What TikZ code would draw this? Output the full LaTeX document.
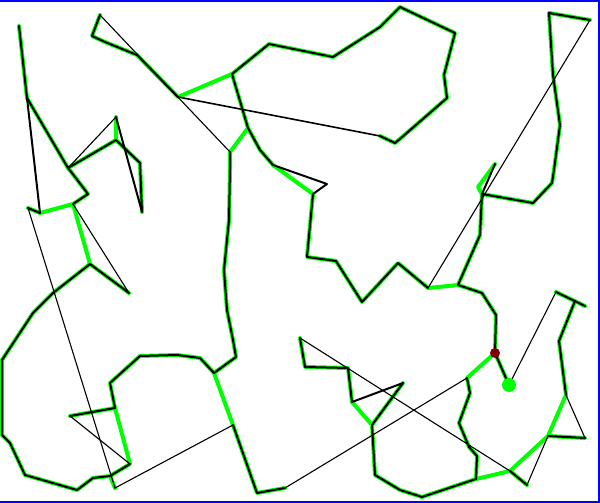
\documentclass[tikz,border=0pt]{standalone}
\definecolor{lime}{RGB}{0,255,0}
\definecolor{dotred}{RGB}{128,0,0}
\definecolor{frameblue}{RGB}{0,0,255}
\tikzset{
  gr/.style={draw=lime, line width=4pt, line join=round, line cap=round},
  bk/.style={draw=black, line width=2pt, line join=round, line cap=round},
  tn/.style={draw=black, line width=1.1pt, line cap=round}
}
\begin{document}
\begin{tikzpicture}[x=1pt,y=-1pt]
\useasboundingbox (0,0) rectangle (600,503);
\fill[white] (0,0) rectangle (600,503);
% vertices
\coordinate (a1) at (19,26);
\coordinate (a2) at (27,98);
\coordinate (a3) at (68,168);
\coordinate (a4) at (116,140);
\coordinate (a5) at (116,117);
\coordinate (a6) at (140,163);
\coordinate (a7) at (142,212);
\coordinate (a8) at (72,173);
\coordinate (a9) at (88,194);
\coordinate (a10) at (73,204);
\coordinate (a11) at (40,213);
\coordinate (a12) at (28,208);
\coordinate (a13) at (90,264);
\coordinate (a14) at (129,293);
\coordinate (a15) at (53,293);
\coordinate (a16) at (33,313);
\coordinate (a18) at (2,360);
\coordinate (a19) at (2,435);
\coordinate (a20) at (10,443);
\coordinate (a21) at (25,475);
\coordinate (a22) at (77,490);
\coordinate (a23) at (93,478);
\coordinate (a24) at (110,476);
\coordinate (a25) at (130,464);
\coordinate (a26) at (115,408);
\coordinate (a27) at (70,416);
\coordinate (a28) at (110,383);
\coordinate (a29) at (140,356);
\coordinate (a30) at (177,355);
\coordinate (a31) at (200,358);
\coordinate (a32) at (214,373);
\coordinate (a33) at (236,357);
\coordinate (a34) at (233,340);
\coordinate (a35) at (227,310);
\coordinate (a36) at (224,270);
\coordinate (a37) at (229,220);
\coordinate (a38) at (230,170);
\coordinate (a39) at (230,152);
\coordinate (a40) at (233,425);
\coordinate (a41) at (257,493);
\coordinate (a42) at (285,488);
\coordinate (a43) at (115,488);
\coordinate (a44) at (248,128);
\coordinate (a45) at (232,74);
\coordinate (a46) at (178,97);
\coordinate (a47) at (137,55);
\coordinate (a48) at (105,42);
\coordinate (a49) at (92,36);
\coordinate (a50) at (100,15);
\coordinate (a51) at (269,44);
\coordinate (a52) at (333,57);
\coordinate (a53) at (380,27);
\coordinate (a54) at (400,7);
\coordinate (a55) at (455,33);
\coordinate (a56) at (444,75);
\coordinate (a57) at (447,98);
\coordinate (a58) at (401,138);
\coordinate (a59) at (395,143);
\coordinate (a60) at (380,136);
\coordinate (a61) at (260,150);
\coordinate (a62) at (273,165);
\coordinate (a63) at (327,184);
\coordinate (a64) at (313,194);
\coordinate (a65) at (307,257);
\coordinate (a66) at (336,261);
\coordinate (a67) at (362,302);
\coordinate (a68) at (398,263);
\coordinate (a69) at (428,288);
\coordinate (a70) at (458,285);
\coordinate (a71) at (480,235);
\coordinate (a72) at (482,194);
\coordinate (a73) at (533,203);
\coordinate (a74) at (552,183);
\coordinate (a75) at (554,170);
\coordinate (a76) at (560,125);
\coordinate (a77) at (553,75);
\coordinate (a78) at (549,13);
\coordinate (a79) at (590,20);
\coordinate (a80) at (478,187);
\coordinate (a81) at (495,164);
\coordinate (a82) at (482,293);
\coordinate (a83) at (496,315);
\coordinate (a84) at (495,353);
\coordinate (a85) at (467,378);
\coordinate (a86) at (509,385);
\coordinate (a87) at (470,393);
\coordinate (a88) at (459,423);
\coordinate (a89) at (469,447);
\coordinate (a90) at (477,456);
\coordinate (a91) at (476,479);
\coordinate (a92) at (510,471);
\coordinate (a93) at (527,485);
\coordinate (a94) at (422,497);
\coordinate (a95) at (400,490);
\coordinate (a96) at (375,475);
\coordinate (a97) at (372,425);
\coordinate (a98) at (352,402);
\coordinate (a99) at (348,368);
\coordinate (a100) at (305,367);
\coordinate (a101) at (300,338);
\coordinate (a102) at (403,383);
\coordinate (a103) at (548,436);
\coordinate (a104) at (566,395);
\coordinate (a105) at (559,341);
\coordinate (a106) at (575,301);
\coordinate (a107) at (585,438);
\coordinate (a108) at (556,292);
\coordinate (a109) at (585,306);
% green tree
\draw[gr] (a1)--(a2)--(a3)--(a4)--(a5);
\draw[gr] (a4)--(a6)--(a7);
\draw[gr] (a3)--(a8)--(a9)--(a10)--(a11)--(a12);
\draw[gr] (a10)--(a13)--(a14);
\draw[gr] (a13)--(a15)--(a16)--(a18)--(a19)--(a20)--(a21)--(a22)--(a23)--(a24)--(a25)--(a26)--(a27);
\draw[gr] (a24)--(a43);
\draw[gr] (a26)--(a28)--(a29)--(a30)--(a31)--(a32)--(a33)--(a34)--(a35)--(a36)--(a37)--(a38)--(a39)--(a44)--(a45)--(a46)--(a47)--(a48)--(a49)--(a50);
\draw[gr] (a32)--(a40)--(a41)--(a42);
\draw[gr] (a45)--(a51)--(a52)--(a53)--(a54)--(a55)--(a56)--(a57)--(a58)--(a59)--(a60);
\draw[gr] (a44)--(a61)--(a62)--(a64)--(a65)--(a66)--(a67)--(a68)--(a69)--(a70)--(a71)--(a72)--(a73)--(a74)--(a75)--(a76)--(a77)--(a78)--(a79);
\draw[gr] (a72)--(a80)--(a81);
\draw[gr] (a70)--(a82)--(a83)--(a84)--(a85)--(a87)--(a88)--(a89)--(a90)--(a91)--(a92)--(a93);
\draw[gr] (a84)--(a86);
\draw[gr] (a91)--(a94)--(a95)--(a96)--(a97)--(a98)--(a99)--(a100)--(a101);
\draw[gr] (a97)--(a102);
\draw[gr] (a92)--(a103)--(a104)--(a105)--(a106);
\draw[gr] (a103)--(a107);
\draw[gr] (a108)--(a109);
% black route, heavy parts
\draw[bk] (a1)--(a2)--(a3)--(a4)--(a6)--(a7)--(a5);
\draw[bk] (a2)--(a11)--(a12);
\draw[bk] (a3)--(a8)--(a9)--(a10);
\draw[bk] (a13)--(a14);
\draw[bk] (a13)--(a15)--(a16)--(a18)--(a19)--(a20)--(a21)--(a22)--(a23)--(a24)--(a25);
\draw[bk] (a27)--(a26)--(a28)--(a29)--(a30)--(a31)--(a32)--(a33)--(a34)--(a35)--(a36)--(a37)--(a38)--(a39);
\draw[bk] (a40)--(a41)--(a42);
\draw[bk] (a44)--(a45)--(a51)--(a52)--(a53)--(a54)--(a55)--(a56)--(a57)--(a58)--(a59)--(a60);
\draw[bk] (a46)--(a47)--(a48)--(a49)--(a50);
\draw[bk, line width=1.6pt] (a46)--(a60);
\draw[bk] (a44)--(a61)--(a62)--(a63)--(a64)--(a65)--(a66)--(a67)--(a68)--(a69);
\draw[bk] (a70)--(a71)--(a72)--(a73)--(a74)--(a75)--(a76)--(a77)--(a78)--(a79);
\draw[bk] (a72)--(a81);
\draw[bk] (a70)--(a82)--(a83)--(a84)--(a86);
\draw[bk] (a85)--(a87)--(a88)--(a89)--(a90)--(a91)--(a94)--(a95)--(a96)--(a97)--(a102)--(a98)--(a99)--(a100)--(a101);
\draw[bk] (a92)--(a93);
\draw[bk] (a104)--(a105)--(a106);
\draw[bk] (a103)--(a107);
\draw[bk] (a108)--(a109);
% black route, light parts
\draw[tn] (a50)--(a39);
\draw[tn] (a5)--(a3);
\draw[tn] (a10)--(a14);
\draw[tn] (a12)--(a43);
\draw[tn] (a27)--(a25);
\draw[tn] (a43)--(a40);
\draw[tn] (a42)--(a85);
\draw[tn] (a101)--(a92);
\draw[tn] (a86)--(a108);
\draw[tn] (a93)--(a103);
\draw[tn] (a104)--(a107);
\draw[tn] (a79)--(a69);
% markers
\fill[lime] (a86) circle (7pt);
\fill[dotred] (a84) circle (5pt);
% frame
\draw[frameblue, line width=2.5pt] (-5,0.5) -- (598.8,0.5) -- (598.8,502) -- (-5,502);
\end{tikzpicture}
\end{document}
